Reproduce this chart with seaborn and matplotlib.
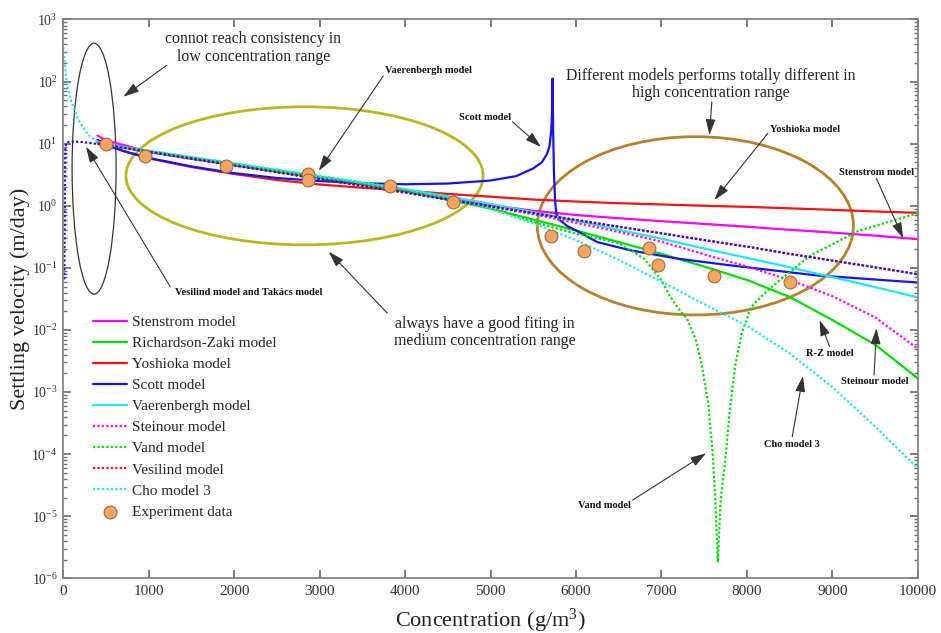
import numpy as np
import pandas as pd
import seaborn as sns
import matplotlib.pyplot as plt
from matplotlib.patches import Ellipse
from matplotlib.ticker import LogLocator, NullFormatter

# concentration grid (g/m3) shared by most model curves
conc = [400, 500, 1000, 1500, 2000, 2500, 3000, 3500, 4000, 4500, 5000,
        5500, 6000, 6500, 7000, 7500, 8000, 8500, 9000, 9500, 10000]

# settling velocity (m/day), one list per model
stenstrom = [13.5, 11.3, 7.4, 5.7, 4.5, 3.55, 2.85, 2.25, 1.72, 1.33, 1.03,
             0.83, 0.71, 0.63, 0.565, 0.51, 0.46, 0.41, 0.37, 0.33, 0.29]
richardson_zaki = [10.3, 9.6, 7.4, 5.8, 4.55, 3.55, 2.8, 2.2, 1.72, 1.25, 0.9,
                   0.6, 0.4, 0.26, 0.168, 0.105, 0.064, 0.034, 0.0145, 0.0058, 0.00166]
yoshioka = [10.5, 9.3, 5.8, 4.2, 3.25, 2.6, 2.2, 1.95, 1.76, 1.55, 1.4,
            1.26, 1.17, 1.1, 1.05, 1.0, 0.96, 0.91, 0.86, 0.81, 0.77]
vaerenbergh = [10.8, 9.8, 7.6, 6.0, 4.75, 3.75, 2.95, 2.33, 1.85, 1.42, 1.07,
               0.79, 0.575, 0.41, 0.295, 0.205, 0.145, 0.102, 0.071, 0.049, 0.0335]
steinour = [10.5, 9.7, 7.5, 5.9, 4.6, 3.6, 2.85, 2.2, 1.72, 1.3, 0.97,
            0.73, 0.53, 0.38, 0.265, 0.165, 0.105, 0.064, 0.035, 0.016, 0.005]
vesilind = [10.0, 9.5, 7.4, 5.74, 4.46, 3.47, 2.7, 2.09, 1.63, 1.26, 0.98,
            0.76, 0.59, 0.46, 0.36, 0.28, 0.22, 0.168, 0.131, 0.102, 0.079]

# Scott model has a spike near 5726 g/m3
scott_conc = [400, 500, 700, 1000, 1500, 2000, 2500, 3000, 3500, 4000, 4500, 5000,
              5300, 5500, 5600, 5660, 5690, 5710, 5720, 5726, 5733, 5742, 5755,
              5770, 5800, 5900, 6000, 6250, 6650, 7200, 7800, 8800, 10000]
scott = [11.5, 9.8, 7.6, 5.9, 4.3, 3.35, 2.8, 2.5, 2.3, 2.22, 2.28, 2.55,
         3.0, 4.0, 5.0, 6.8, 9.0, 16, 32, 112, 15, 3.5, 1.2,
         0.75, 0.6, 0.47, 0.4, 0.26, 0.19, 0.14, 0.11, 0.076, 0.058]

# Vand model dips to a cusp near 7660 g/m3
vand_conc = [400, 500, 1000, 1500, 2000, 2500, 3000, 3500, 4000, 4500, 5000,
             5500, 6000, 6500, 6800, 7000, 7100, 7200, 7300, 7400, 7470, 7550,
             7600, 7630, 7660, 7690, 7720, 7740, 7800, 7860, 7940, 8050, 8200,
             8400, 8750, 9300, 10000]
vand = [10.0, 9.6, 7.6, 6.0, 4.7, 3.7, 2.9, 2.25, 1.74, 1.3, 0.95,
        0.55, 0.355, 0.25, 0.14, 0.063, 0.035, 0.022, 0.0151, 0.0071, 0.0028, 6.3e-4,
        1.0e-4, 2.0e-5, 1.8e-6, 1.6e-5, 4.0e-5, 6.3e-5, 5.0e-4, 2.5e-3, 8.9e-3, 0.0234, 0.038,
        0.066, 0.16, 0.39, 0.76]

cho_conc = [0, 20, 40, 70, 100, 150, 200, 300, 400, 500, 1000, 1500, 2000, 2500,
            3000, 3500, 4000, 4500, 5000, 5500, 6000, 6500, 7000, 7500, 8000,
            8500, 9000, 9500, 10000]
cho3 = [360, 180, 100, 62, 45, 29, 21, 13.5, 10.8, 9.6, 7.7, 6.1, 4.85, 3.85,
        3.05, 2.4, 1.85, 1.35, 0.89, 0.52, 0.28, 0.135, 0.06, 0.026, 0.0117,
        0.0042, 0.0012, 2.8e-4, 5.9e-5]

# Takacs model (not in legend): steep rise at low concentration, then joins Vesilind
takacs_low_conc = [12, 16, 20, 25, 40, 100, 200, 300]
takacs_low = [0.06, 0.6, 4.0, 9.0, 10.5, 10.8, 10.7, 10.3]

exp_conc = [500, 960, 1900, 2860, 2860, 3820, 4560, 5710, 6090, 6850, 6960, 7610, 8510]
exp_v = [9.86, 6.32, 4.41, 3.24, 2.59, 2.10, 1.16, 0.329, 0.184, 0.206, 0.111, 0.073, 0.0598]

sns.set_theme(style="ticks")
plt.rcParams["font.family"] = ["Liberation Serif", "DejaVu Serif"]
plt.rcParams["mathtext.fontset"] = "custom"
plt.rcParams["mathtext.rm"] = "Liberation Serif"
plt.rcParams["mathtext.it"] = "Liberation Serif:italic"

fig = plt.figure(figsize=(9.41, 6.33), dpi=100)
ax = fig.add_axes([0.0673, 0.0864, 0.908, 0.8828])

dot = (0, (1, 1))
curves = [
    ("Stenstrom model", conc, stenstrom, "#ff00ff", "-"),
    ("Richardson-Zaki model", conc, richardson_zaki, "#00dd00", "-"),
    ("Yoshioka model", conc, yoshioka, "#ff1010", "-"),
    ("Scott model", scott_conc, scott, "#1414f0", "-"),
    ("Vaerenbergh model", conc, vaerenbergh, "#22e6f0", "-"),
    ("Steinour model", conc, steinour, "#ff00ff", dot),
    ("Vand model", vand_conc, vand, "#00dd00", dot),
    ("Vesilind model", conc, vesilind, "#ff1010", dot),
    ("Cho model 3", cho_conc, cho3, "#22e6f0", dot),
]
for label, x, y, col, ls in curves:
    sns.lineplot(x=x, y=y, ax=ax, color=col, linestyle=ls, lw=1.6,
                 label=label, errorbar=None)

# Takacs curve drawn on top of the Vesilind one
sns.lineplot(x=takacs_low_conc + conc[1:], y=takacs_low + vesilind[1:], ax=ax,
             color="#1414f0", linestyle=(1, (1, 1)), lw=1.6, errorbar=None,
             legend=False)

sns.scatterplot(x=exp_conc, y=exp_v, ax=ax, s=85, color="#f5a561",
                edgecolor="#a06a3c", linewidth=0.8, label="Experiment data", zorder=5)

ax.set_yscale("log")
ax.set_xlim(0, 10000)
ax.set_ylim(1e-6, 1e3)
ax.set_xticks(range(0, 10001, 1000))
ax.yaxis.set_major_locator(LogLocator(base=10, numticks=20))
ax.yaxis.set_minor_locator(LogLocator(base=10, subs=np.arange(2, 10), numticks=100))
ax.yaxis.set_minor_formatter(NullFormatter())
ax.tick_params(which="both", direction="in", top=True, right=True, colors="#707070",
               labelcolor="#333333", labelsize=11)
ax.tick_params(which="major", length=6, pad=5)
ax.tick_params(which="minor", length=3)
ax.tick_params(axis="y", which="major", labelsize=10, pad=4)
for sp in ax.spines.values():
    sp.set_color("#808080")
ax.set_xlabel("Concentration (g/m$^3$)", fontsize=16, color="#222222", labelpad=6)
ax.set_ylabel("Settling velocity (m/day)", fontsize=16, color="#222222")
ax.yaxis.set_label_coords(-0.039, 0.5)

# ellipses marking the three ranges (axes fraction)
ax.add_patch(Ellipse((0.036, 0.733), 0.0515, 0.449, transform=ax.transAxes,
                     fill=False, ec="#333333", lw=0.9))
ax.add_patch(Ellipse((0.2823, 0.7203), 0.418, 0.247, transform=ax.transAxes,
                     fill=False, ec="#bdb520", lw=2))
ax.add_patch(Ellipse((0.7397, 0.6308), 0.370, 0.319, transform=ax.transAxes,
                     fill=False, ec="#b8802a", lw=2))

big_notes = [
    ("connot reach consistency in\nlow concentration range", 2224, 347),
    ("Different models performs totally different in\nhigh concentration range", 7582, 88.8),
    ("always have a good fiting in\nmedium concentration range", 4930, 0.009),
]
for txt, x, y in big_notes:
    ax.text(x, y, txt, ha="center", va="center", fontsize=11.4, color="#222222",
            linespacing=1.1)

small_notes = [
    ("Vaerenbergh model", 4272, 153),
    ("Vesilind model and Takács model", 2169, 0.0398),
    ("Scott model", 4938, 26.5),
    ("Yoshioka model", 8675, 17.2),
    ("Stenstrom model", 9516, 3.4),
    ("R-Z model", 8968, 0.0042),
    ("Steinour model", 9496, 0.00147),
    ("Cho model 3", 8531, 1.44e-4),
    ("Vand model", 6331, 1.47e-5),
]
for txt, x, y in small_notes:
    ax.text(x, y, txt, ha="center", va="center", fontsize=7.5, fontweight="bold",
            color="#111111")

# arrows: (tail, head)
arrows = [
    ((1212, 184), (703, 57)),
    ((3744, 123), (2990, 3.66)),
    ((1251, 0.0497), (266, 8.9)),
    ((5257, 22.5), (5589, 8.9)),
    ((7590, 47.3), (7562, 13.8)),
    ((8246, 14.7), (7620, 1.24)),
    ((9516, 2.76), (9829, 0.30)),
    ((3791, 0.0187), (3107, 0.182)),
    ((8968, 0.0054), (8851, 0.0144)),
    ((9489, 0.00188), (9516, 0.0106)),
    ((8531, 1.9e-4), (8656, 1.81e-3)),
    ((6663, 1.82e-5), (7523, 1.03e-4)),
]
for tail, head in arrows:
    ax.annotate("", xy=head, xytext=tail,
                arrowprops=dict(arrowstyle="-|>,head_length=0.8,head_width=0.25",
                                color="#333333", lw=0.8, shrinkA=0, shrinkB=0))

ax.legend(loc="upper left", bbox_to_anchor=(0.028, 0.481), frameon=False, fontsize=11,
          handlelength=2.2, handletextpad=0.3, labelspacing=0.48, borderaxespad=0)

fig.savefig("out.png", dpi=100)
